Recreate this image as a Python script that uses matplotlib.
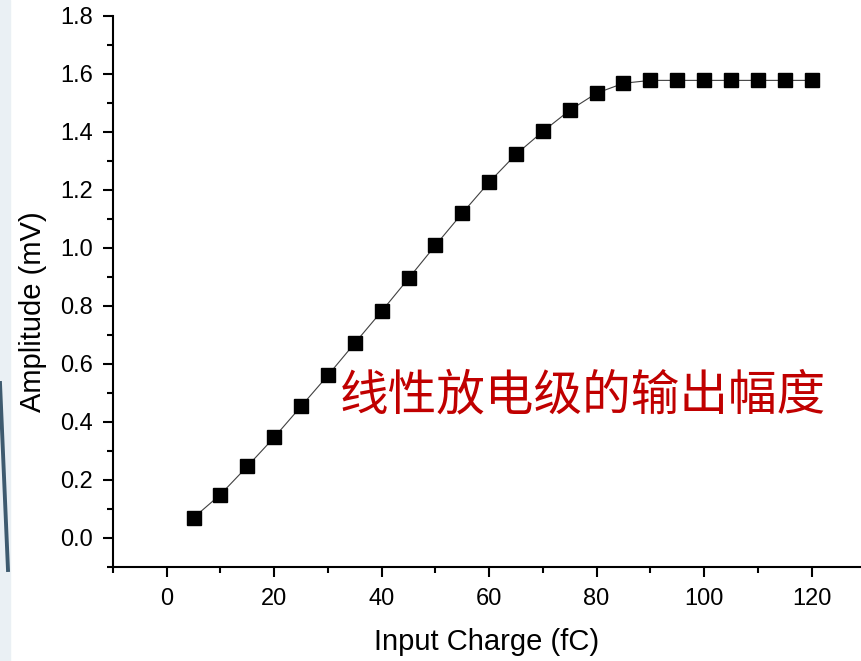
import numpy as np
import matplotlib.pyplot as plt
from matplotlib.lines import Line2D
from matplotlib.patches import Rectangle
from matplotlib.ticker import MultipleLocator

# input charge (fC) and output amplitude (mV)
charge = [5, 10, 15, 20, 25, 30, 35, 40, 45, 50, 55, 60,
          65, 70, 75, 80, 85, 90, 95, 100, 105, 110, 115, 120]
amplitude = [0.07, 0.15, 0.247, 0.347, 0.454, 0.561, 0.672, 0.782, 0.895, 1.009, 1.12, 1.227,
             1.323, 1.402, 1.475, 1.534, 1.568, 1.578, 1.578, 1.578, 1.578, 1.578, 1.578, 1.578]

note = "线性放电级的输出幅度"

plt.rcParams['font.family'] = ['Liberation Sans', 'DejaVu Sans']

fig = plt.figure(figsize=(8.61, 6.61), dpi=100)

# slide background bits on the left edge
fig.patches.append(Rectangle((0, 0), 10 / 861, 1, transform=fig.transFigure,
                             color='#eaf0f4', zorder=0))
fig.lines.append(Line2D([0 / 861, 8 / 861], [1 - 383 / 661, 1 - 570 / 661],
                        transform=fig.transFigure, color='#3e5b6f', lw=2.8))

ax = fig.add_axes([113 / 861, 94 / 661, 748 / 861, 551 / 661])

ax.plot(charge, amplitude, '-', color='#404040', lw=0.8)
ax.plot(charge, amplitude, 's', color='black', ms=9.5)

ax.set_xlim(-10, 129.2)
ax.set_ylim(-0.1, 1.8)
ax.xaxis.set_major_locator(MultipleLocator(20))
ax.xaxis.set_minor_locator(MultipleLocator(10))
ax.yaxis.set_major_locator(MultipleLocator(0.2))
ax.yaxis.set_minor_locator(MultipleLocator(0.1))
ax.yaxis.set_major_formatter(lambda v, p: f"{v:.1f}")

ax.spines['top'].set_visible(False)
ax.spines['right'].set_visible(False)
for s in ['left', 'bottom']:
    ax.spines[s].set_linewidth(1.5)
ax.tick_params(which='major', direction='out', length=7.2, width=1.5, labelsize=17)
ax.tick_params(which='minor', direction='out', length=4.5, width=1.5)
ax.tick_params(axis='x', which='major', pad=8)
ax.tick_params(axis='y', which='major', pad=7)

ax.set_xlabel("Input Charge (fC)", fontsize=21, labelpad=13)
ax.set_ylabel("Amplitude (mV)", fontsize=21)
ax.yaxis.set_label_coords(-0.088, 0.463)

ax.text(32.2, 0.49, note, color='#c00000', fontsize=35, ha='left', va='center',
        family=['Noto Sans CJK SC', 'DejaVu Sans'], fontweight='light')

fig.savefig("out.png", dpi=100)
